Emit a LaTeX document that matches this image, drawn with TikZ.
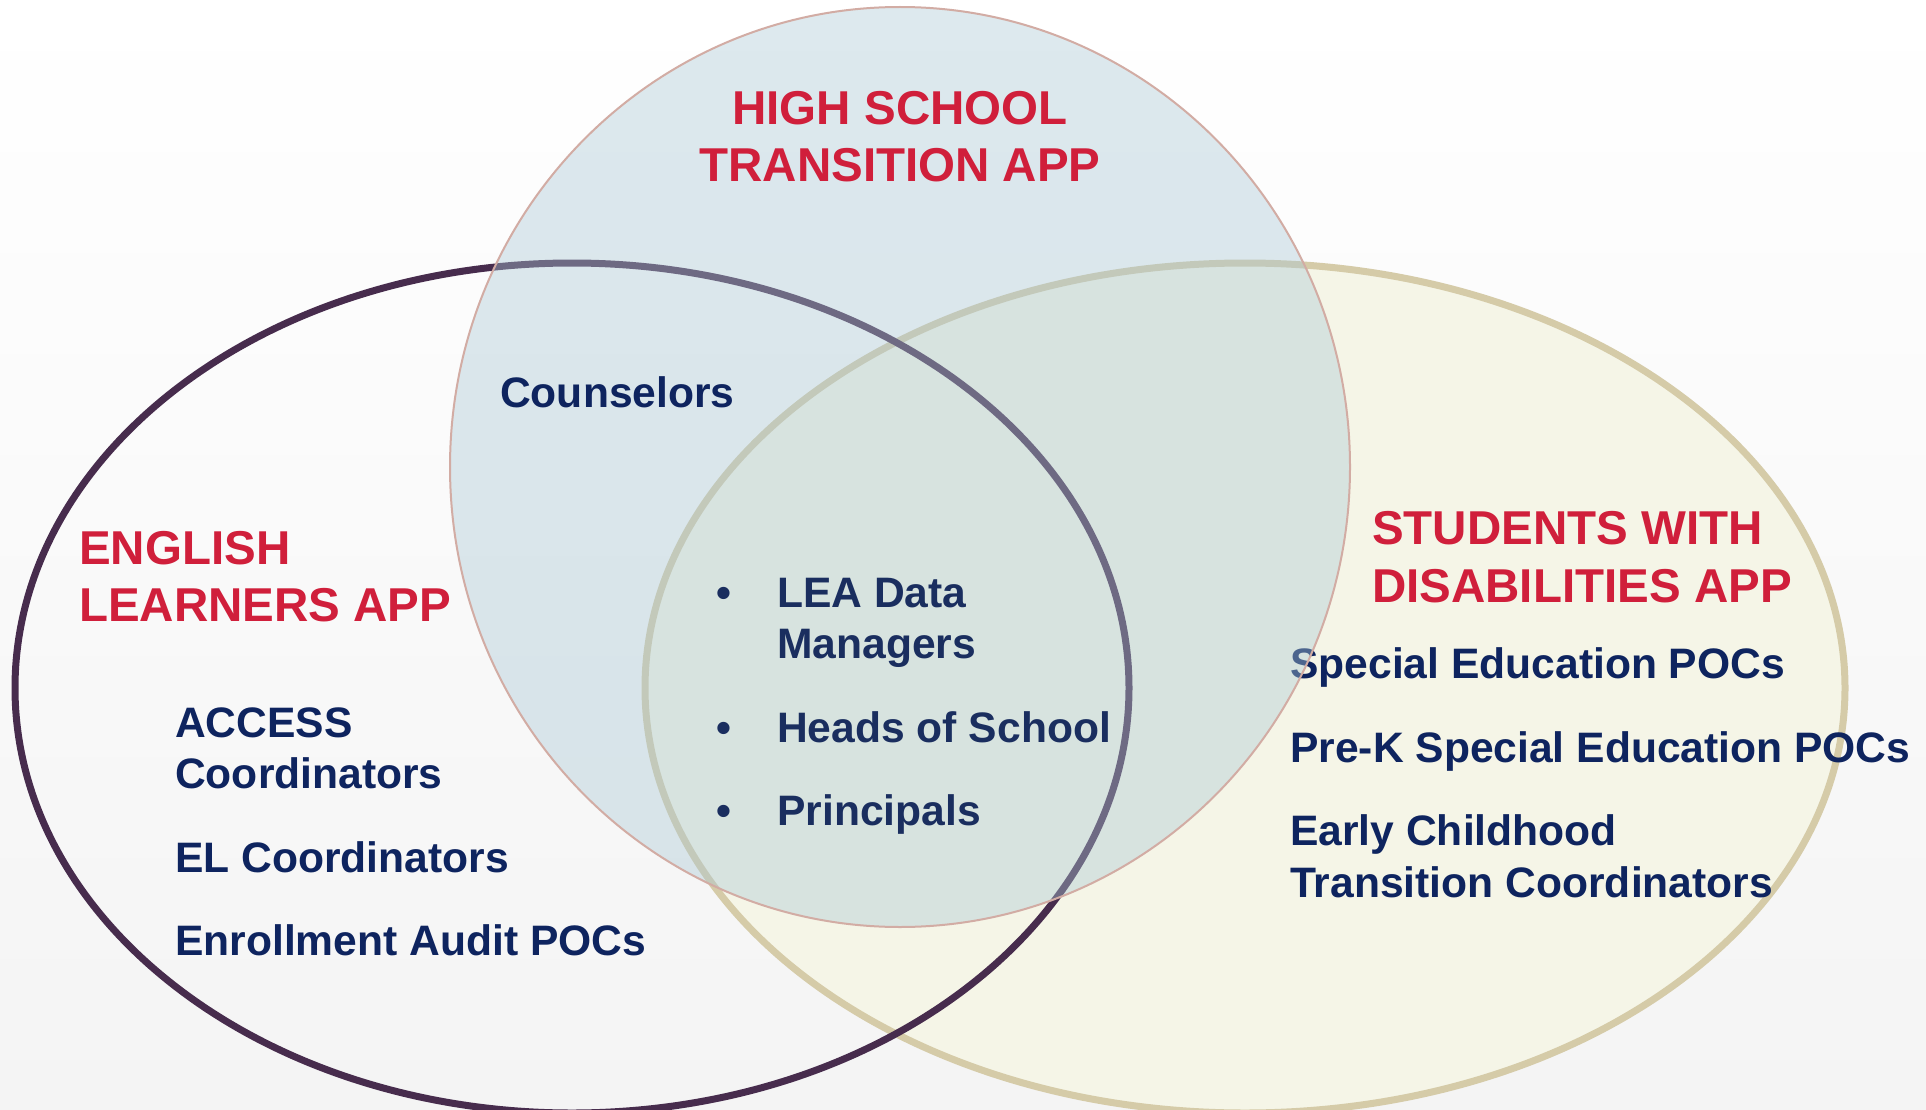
\documentclass[tikz,border=0pt]{standalone}
\usepackage{fontspec}
\setmainfont{Liberation Sans}
\definecolor{titlered}{HTML}{D01F3B}
\definecolor{navy}{HTML}{0E245F}
\definecolor{navyc}{HTML}{1A2E5F}
\definecolor{elstroke}{HTML}{472C4D}
\definecolor{swdfill}{HTML}{F5F5E7}
\definecolor{swdstroke}{HTML}{D5CBA8}
\definecolor{hsfill}{HTML}{AAC8D5}
\definecolor{hsstroke}{HTML}{D2ACA4}
\definecolor{bgbottom}{HTML}{F4F4F4}
\begin{document}
\begin{tikzpicture}[x=1pt,y=-1pt,
  title/.style={anchor=base west,inner sep=0pt,text=titlered,font=\fontsize{47.5}{57}\selectfont\bfseries},
  titlec/.style={anchor=base,inner sep=0pt,text=titlered,font=\fontsize{47.5}{57}\selectfont\bfseries},
  item/.style={anchor=base west,inner sep=0pt,text=navy,font=\fontsize{42.6}{50}\selectfont\bfseries},
  citem/.style={anchor=base west,inner sep=0pt,text=navyc,font=\fontsize{42.6}{50}\selectfont\bfseries},
  bul/.style={anchor=base,inner sep=0pt,text=navyc,font=\fontsize{42.6}{50}\selectfont\bfseries}]
\useasboundingbox (0,0) rectangle (1926,1110);
\shade[top color=white,middle color=white,bottom color=bgbottom] (0,0) rectangle (1926,1110);
% students with disabilities ellipse
\draw[fill=swdfill,draw=swdstroke,line width=7pt] (1245,688) ellipse [x radius=600,y radius=425];
% english learners ellipse
\draw[draw=elstroke,line width=7pt] (572,688) ellipse [x radius=557,y radius=425];
% text under the transparent circle
\node[item] (sped) at (1290,678) {Special Education POCs};
% high school transition ellipse
\fill[hsfill,fill opacity=0.4] (900,467) ellipse [x radius=450,y radius=460];
\draw[hsstroke,line width=2pt] (900,467) ellipse [x radius=450,y radius=460];
% titles
\node[titlec] (hs1) at (900,125) {HIGH SCHOOL};
\node[titlec] (hs2) at (900,182) {TRANSITION APP};
\node[title] (el1) at (79,564) {ENGLISH};
\node[title] (el2) at (79,621) {LEARNERS APP};
\node[title] (sw1) at (1372,544) {STUDENTS WITH};
\node[title] (sw2) at (1372,602) {DISABILITIES APP};
% left items
\node[item] (acc1) at (175,737) {ACCESS};
\node[item] (acc2) at (175,788) {Coordinators};
\node[item] (elc) at (175,872) {EL Coordinators};
\node[item] (enr) at (175,955) {Enrollment Audit POCs};
% counselors
\node[item] (cou) at (500,407) {Counselors};
% center items
\node[bul] (b1) at (724,607) {•};
\node[bul] (b2) at (724,742) {•};
\node[bul] (b3) at (724,825) {•};
\node[citem] (lea1) at (777,607) {LEA Data};
\node[citem] (lea2) at (777,658) {Managers};
\node[citem] (hos) at (777,742) {Heads of School};
\node[citem] (pri) at (777,825) {Principals};
% right items
\node[item] (prek) at (1290,762) {Pre-K Special Education POCs};
\node[item] (ec1) at (1290,845) {Early Childhood};
\node[item] (ec2) at (1290,897) {Transition Coordinators};
\end{tikzpicture}
\end{document}
